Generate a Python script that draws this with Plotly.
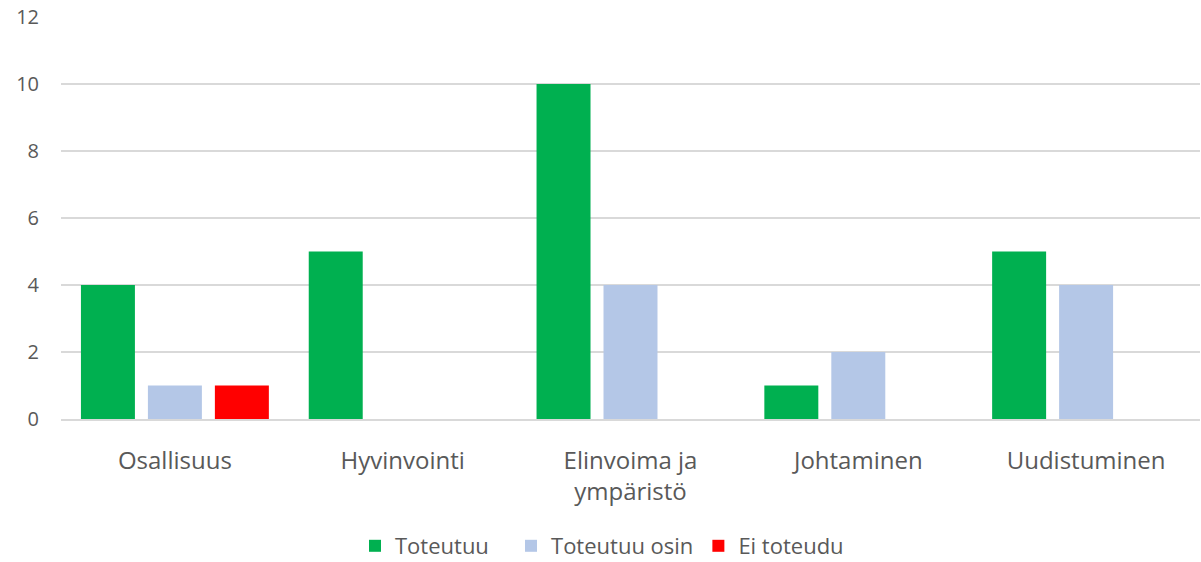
import plotly.graph_objects as go

categories = ["Osallisuus", "Hyvinvointi", "Elinvoima ja<br>ympäristö", "Johtaminen", "Uudistuminen"]
toteutuu = [4, 5, 10, 1, 5]
toteutuu_osin = [1, 0, 4, 2, 4]
ei_toteudu = [1, 0, 0, 0, 0]
series_names = ["Toteutuu", "Toteutuu osin", "Ei toteudu"]
colors = ["#00B050", "#B4C7E7", "#FF0000"]
y_ticks = [0, 2, 4, 6, 8, 10, 12]

pads = ["\u00a0\u00a0\u00a0", "", ""]
fig = go.Figure()
for name, vals, col, p in zip(series_names, [toteutuu, toteutuu_osin, ei_toteudu], colors, pads):
    fig.add_trace(go.Bar(x=categories, y=vals, name=name + p,
                         marker=dict(color=col, line=dict(width=0))))

font_fam = "Open Sans, Liberation Sans, sans-serif"
fig.update_layout(
    width=1201, height=562,
    margin=dict(l=61, r=1, t=17, b=143, autoexpand=False),
    paper_bgcolor="white", plot_bgcolor="white",
    barmode="group", bargap=0.118, bargroupgap=0.194,
    font=dict(family=font_fam, color="#595959"),
    legend=dict(orientation="h", x=(370 - 15 - 61) / 1139, xanchor="left", xref="paper",
                y=(419 - 546) / 402, yanchor="middle", yref="paper",
                font=dict(size=22, color="#595959"),
                traceorder="normal"),
    showlegend=True,
)
fig.update_xaxes(showgrid=False, showline=True, linecolor="#D9D9D9", linewidth=1.5,
                 tickfont=dict(size=24, color="#595959"), ticks="", ticklen=0,
                 automargin=False, ticklabelstandoff=19)
fig.update_yaxes(range=[0, 12], tickvals=y_ticks, showgrid=True, gridcolor="#D9D9D9",
                 gridwidth=1.5, zeroline=False, showline=False, automargin=False,
                 tickfont=dict(size=20, color="#595959"), ticks="", ticklabelstandoff=21)

fig.write_html("out.html", config={"displayModeBar": False},
               post_script="document.body.style.margin='0';")
